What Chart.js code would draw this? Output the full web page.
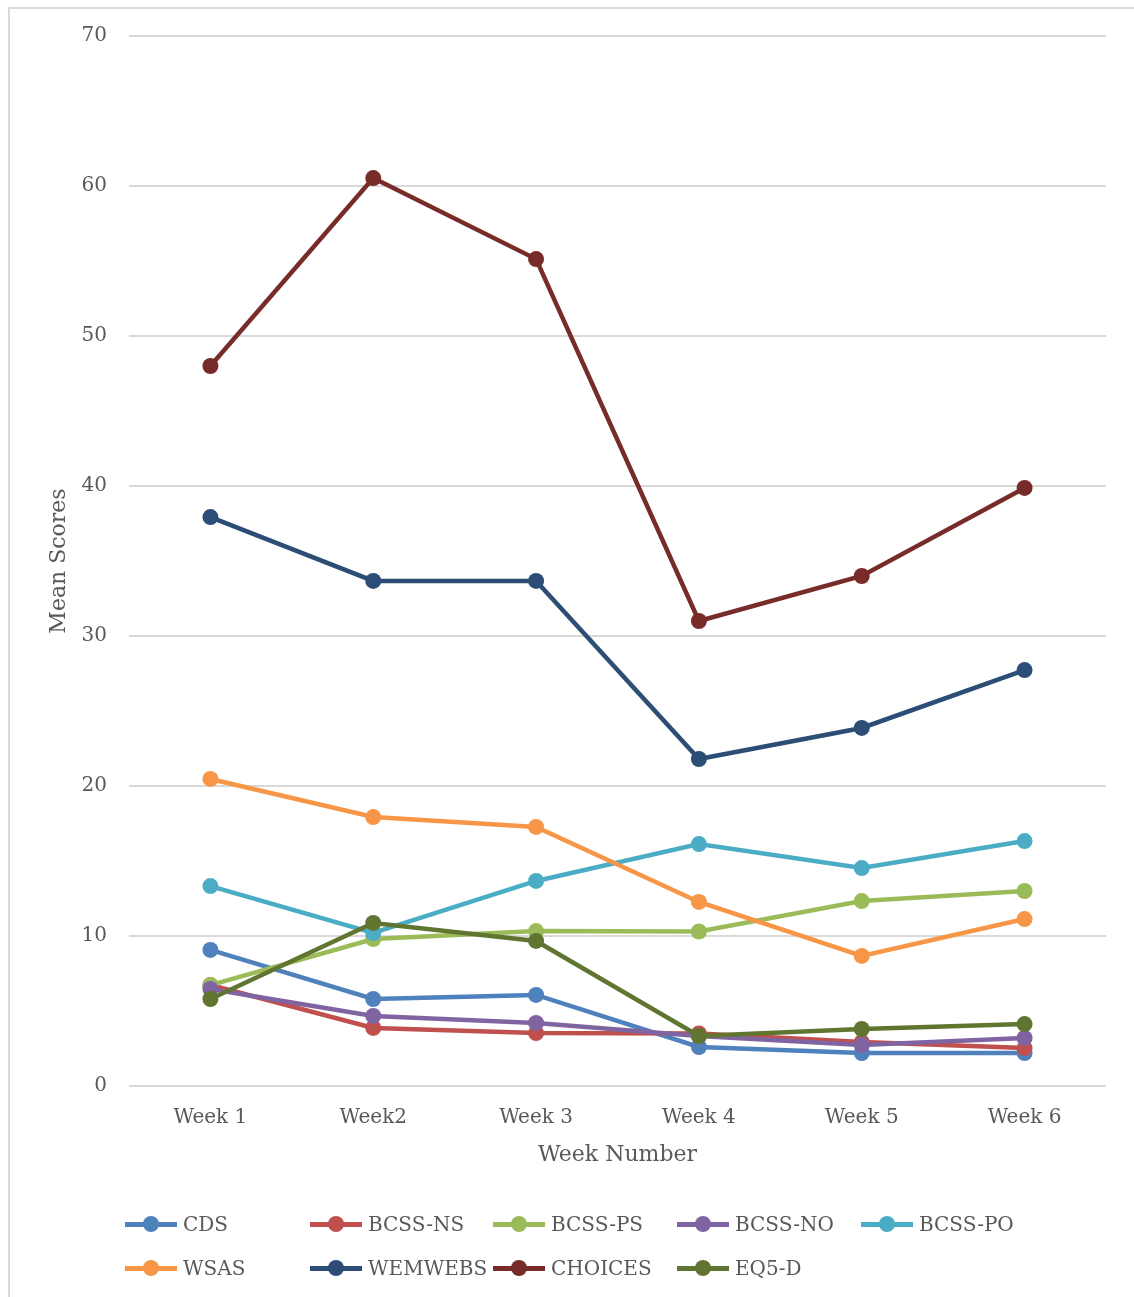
<!DOCTYPE html>
<html>
<head>
<meta charset="utf-8">
<script src="https://cdn.jsdelivr.net/npm/chart.js@4"></script>
<style>
  html, body { margin:0; padding:0; background:#fff; }
  body { width:1134px; height:1297px; position:relative; overflow:hidden; font-family:"DejaVu Serif", serif; }
  #frame { position:absolute; left:8px; top:7px; width:1140px; height:1300px; border-left:2px solid #d9d9d9; border-top:2px solid #d9d9d9; }
  #wrap { position:absolute; left:0; top:0; width:1134px; height:1297px; }
  #legend { position:absolute; left:0; top:0; }
  .item { position:absolute; height:24px; display:flex; align-items:center; color:#595959; font-size:20px; white-space:nowrap; }
  .mk { position:relative; width:52px; height:24px; margin-right:6px; }
  .mk .ln { position:absolute; left:0; right:0; top:9.5px; height:5px; }
  .mk .dt { position:absolute; left:18px; top:4px; width:16px; height:16px; border-radius:50%; }
</style>
</head>
<body>
<div id="frame"></div>
<div id="wrap"><canvas id="c" width="1134" height="1297"></canvas></div>
<div id="legend"></div>
<script>
const weeks = ['Week 1','Week2','Week 3','Week 4','Week 5','Week 6'];
const seriesNames = ['CDS','BCSS-NS','BCSS-PS','BCSS-NO','BCSS-PO','WSAS','WEMWEBS','CHOICES','EQ5-D'];
const colors = ['#4F81BD','#C0504D','#9BBB59','#8064A2','#4BACC6','#F79646','#2C4D75','#772C2A','#5F7530'];

const cds     = [9.07, 5.8, 6.07, 2.6, 2.2, 2.2];
const bcssNS  = [6.73, 3.87, 3.53, 3.5, 2.93, 2.53];
const bcssPS  = [6.73, 9.8, 10.33, 10.3, 12.33, 13.0];
const bcssNO  = [6.47, 4.67, 4.2, 3.33, 2.73, 3.2];
const bcssPO  = [13.33, 10.2, 13.67, 16.13, 14.53, 16.33];
const wsas    = [20.47, 17.93, 17.27, 12.27, 8.67, 11.13];
const wemwebs = [37.93, 33.67, 33.67, 21.8, 23.87, 27.73];
const choices = [48.0, 60.53, 55.13, 31.0, 34.0, 39.87];
const eq5d    = [5.8, 10.87, 9.67, 3.33, 3.8, 4.13];
const seriesData = [cds, bcssNS, bcssPS, bcssNO, bcssPO, wsas, wemwebs, choices, eq5d];

const yTicks = [0, 10, 20, 30, 40, 50, 60, 70];

const txt = '#595959';
const grid = '#d9d9d9';

const datasets = seriesNames.map((n, i) => ({
  label: n,
  data: seriesData[i],
  borderColor: colors[i],
  backgroundColor: colors[i],
  borderWidth: 4.5,
  pointRadius: 8,
  pointHoverRadius: 8,
  pointBorderWidth: 0,
  pointBackgroundColor: colors[i],
  tension: 0,
  order: seriesNames.length - i
}));

new Chart(document.getElementById('c'), {
  type: 'line',
  data: { labels: weeks, datasets },
  options: {
    responsive: false,
    animation: false,
    layout: { padding: { left: 0, right: 28, top: 36, bottom: 121 } },
    plugins: { legend: { display: false }, tooltip: { enabled: false } },
    scales: {
      x: {
        offset: true,
        grid: { display: false, drawTicks: false },
        border: { display: false },
        ticks: { color: txt, font: { family: 'DejaVu Serif', size: 20 }, padding: 20, maxRotation: 0 },
        title: { display: true, text: 'Week Number', color: txt, font: { family: 'DejaVu Serif', size: 22 }, padding: { top: 0, bottom: 8 } },
        afterFit: s => { s.height = 90; }
      },
      y: {
        min: 0, max: 70,
        afterBuildTicks: s => { s.ticks = yTicks.map(v => ({ value: v })); },
        grid: { color: grid, lineWidth: 2, drawTicks: false },
        border: { display: false },
        ticks: { color: txt, font: { family: 'DejaVu Serif', size: 20 }, padding: 22 },
        title: { display: true, text: 'Mean Scores', color: txt, font: { family: 'DejaVu Serif', size: 22 }, padding: { top: 46, bottom: 0 } },
        afterFit: s => { s.width = 129; }
      }
    }
  }
});

// legend in fixed columns like the original
const leg = document.getElementById('legend');
const colX = [125, 310, 493, 677, 861];
const rowY = [1212, 1256];
seriesNames.forEach((n, i) => {
  const el = document.createElement('div');
  el.className = 'item';
  el.style.left = colX[i % 5] + 'px';
  el.style.top = rowY[Math.floor(i / 5)] + 'px';
  el.innerHTML = '<span class="mk"><span class="ln" style="background:' + colors[i] + '"></span><span class="dt" style="background:' + colors[i] + '"></span></span>' + n;
  leg.appendChild(el);
});
</script>
</body>
</html>
